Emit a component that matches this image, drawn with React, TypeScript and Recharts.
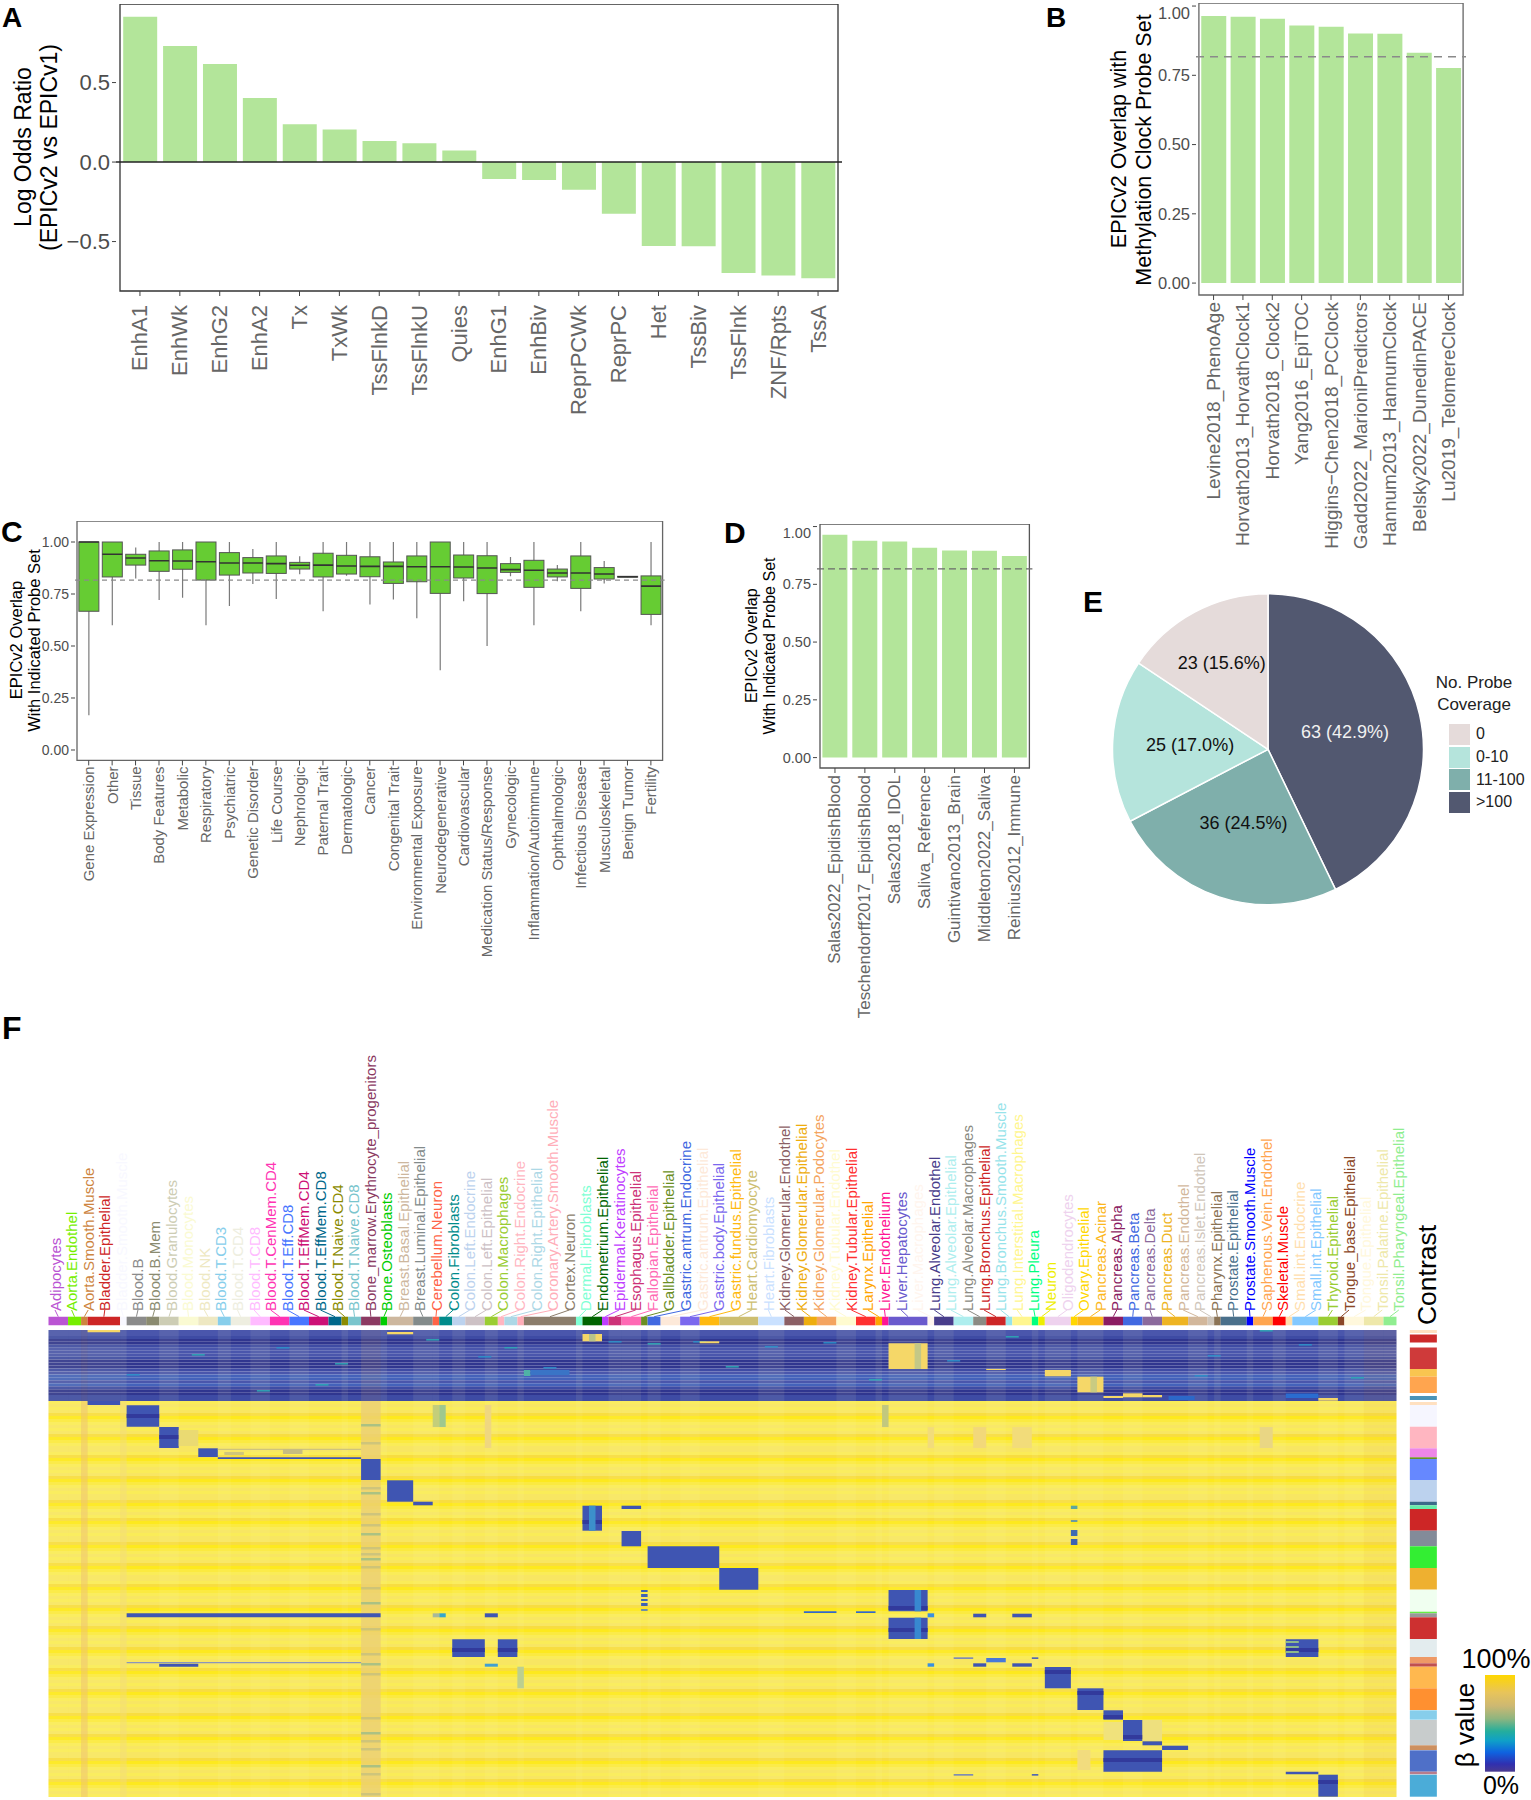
import React from 'react';
import {
  BarChart, Bar, XAxis, YAxis, ReferenceLine, ReferenceArea, PieChart, Pie, Cell, Legend, ScatterChart,
} from 'recharts';

const FONT = '"Liberation Sans", Arial, sans-serif';
const GREY = '#4D4D4D';
const BAR_GREEN = '#B3E59A';
const THRESHOLD = 0.817;

// panel A
const stateNames = ['EnhA1', 'EnhWk', 'EnhG2', 'EnhA2', 'Tx', 'TxWk', 'TssFlnkD', 'TssFlnkU', 'Quies', 'EnhG1', 'EnhBiv', 'ReprPCWk', 'ReprPC', 'Het', 'TssBiv', 'TssFlnk', 'ZNF/Rpts', 'TssA'];
const stateLogOdds = [0.914, 0.73, 0.616, 0.403, 0.237, 0.205, 0.132, 0.119, 0.073, -0.107, -0.113, -0.174, -0.325, -0.528, -0.53, -0.698, -0.713, -0.731];

// panel B
const clockNames = ['Levine2018_PhenoAge', 'Horvath2013_HorvathClock1', 'Horvath2018_Clock2', 'Yang2016_EpiTOC', 'Higgins\u2212Chen2018_PCClock', 'Gadd2022_MarioniPredictors', 'Hannum2013_HannumClock', 'Belsky2022_DunedinPACE', 'Lu2019_TelomereClock'];
const clockOverlap = [0.964, 0.9615, 0.954, 0.93, 0.925, 0.901, 0.9, 0.831, 0.776];

// panel C
const traitNames = ['Gene Expression', 'Other', 'Tissue', 'Body Features', 'Metabolic', 'Respiratory', 'Psychiatric', 'Genetic Disorder', 'Life Course', 'Nephrologic', 'Paternal Trait', 'Dermatologic', 'Cancer', 'Congenital Trait', 'Environmental Exposure', 'Neurodegenerative', 'Cardiovascular', 'Medication Status/Response', 'Gynecologic', 'Inflammation/Autoimmune', 'Ophthalmologic', 'Infectious Disease', 'Musculoskeletal', 'Benign Tumor', 'Fertility'];
const traitLow = [0.167, 0.6, 0.824, 0.721, 0.732, 0.6, 0.692, 0.798, 0.726, 0.845, 0.667, 0.838, 0.699, 0.724, 0.633, 0.383, 0.715, 0.5, 0.835, 0.6, 0.811, 0.667, 0.801, 0.831, 0.6];
const traitQ1 = [0.667, 0.832, 0.889, 0.859, 0.869, 0.817, 0.841, 0.851, 0.849, 0.87, 0.832, 0.846, 0.833, 0.801, 0.809, 0.753, 0.827, 0.752, 0.854, 0.782, 0.832, 0.777, 0.822, 0.831, 0.652];
const traitMedian = [1, 0.941, 0.923, 0.91, 0.909, 0.905, 0.899, 0.899, 0.896, 0.888, 0.889, 0.885, 0.883, 0.883, 0.881, 0.881, 0.88, 0.875, 0.867, 0.864, 0.851, 0.851, 0.846, 0.833, 0.788];
const traitQ3 = [1, 1, 0.941, 0.957, 0.962, 1, 0.949, 0.925, 0.933, 0.902, 0.946, 0.936, 0.929, 0.904, 0.933, 1, 0.9375, 0.934, 0.896, 0.912, 0.87, 0.933, 0.877, 0.835, 0.837];
const traitHigh = [1, 1, 0.974, 1, 1, 1, 1, 0.966, 1, 0.931, 1, 1, 1, 1, 1, 1, 1, 1, 0.928, 1, 0.889, 1, 0.909, 0.835, 1];

// panel D
const cellSetNames = ['Salas2022_EpidishBlood', 'Teschendorff2017_EpidishBlood', 'Salas2018_IDOL', 'Saliva_Reference', 'Guintivano2013_Brain', 'Middleton2022_Saliva', 'Reinius2012_Immune'];
const cellSetOverlap = [0.965, 0.939, 0.935, 0.908, 0.896, 0.895, 0.873];

// panel E
const coverageLabels = ['>100', '11-100', '0-10', '0'];
const coverageCounts = [63, 36, 25, 23];
const coveragePercents = ['42.9', '24.5', '17.0', '15.6'];
const coverageColors = ['#525870', '#7FAFAB', '#B5E4DC', '#E5DBDA'];

// panel F, column groups
const cellTypes = ['Adipocytes', 'Aorta.Endothel', 'Aorta.Smooth.Muscle', 'Bladder.Epithelial', 'Bladder.Smooth.Muscle', 'Blood.B', 'Blood.B.Mem', 'Blood.Granulocytes', 'Blood.Monocytes', 'Blood.NK', 'Blood.T.CD3', 'Blood.T.CD4', 'Blood.T.CD8', 'Blood.T.CenMem.CD4', 'Blood.T.Eff.CD8', 'Blood.T.EffMem.CD4', 'Blood.T.EffMem.CD8', 'Blood.T.Naive.CD4', 'Blood.T.Naive.CD8', 'Bone_marrow.Erythrocyte_progenitors', 'Bone.Osteoblasts', 'Breast.Basal.Epithelial', 'Breast.Luminal.Epithelial', 'Cerebellum.Neuron', 'Colon.Fibroblasts', 'Colon.Left.Endocrine', 'Colon.Left.Epithelial', 'Colon.Macrophages', 'Colon.Right.Endocrine', 'Colon.Right.Epithelial', 'Coronary.Artery.Smooth.Muscle', 'Cortex.Neuron', 'Dermal.Fibroblasts', 'Endometrium.Epithelial', 'Epidermal.Keratinocytes', 'Esophagus.Epithelial', 'Fallopian.Epithelial', 'Gallbladder.Epithelial', 'Gastric.antrum.Endocrine', 'Gastric.antrum.Epithelial', 'Gastric.body.Epithelial', 'Gastric.fundus.Epithelial', 'Heart.Cardiomyocyte', 'Heart.Fibroblasts', 'Kidney.Glomerular.Endothel', 'Kidney.Glomerular.Epithelial', 'Kidney.Glomerular.Podocytes', 'Kidney.Tubular.Endothel', 'Kidney.Tubular.Epithelial', 'Larynx.Epithelial', 'Liver.Endothelium', 'Liver.Hepatocytes', 'Liver.Macrophages', 'Lung.Alveolar.Endothel', 'Lung.Alveolar.Epithelial', 'Lung.Alveolar.Macrophages', 'Lung.Bronchus.Epithelial', 'Lung.Bronchus.Smooth.Muscle', 'Lung.Interstitial.Macrophages', 'Lung.Pleura', 'Neuron', 'Oligodendrocytes', 'Ovary.Epithelial', 'Pancreas.Acinar', 'Pancreas.Alpha', 'Pancreas.Beta', 'Pancreas.Delta', 'Pancreas.Duct', 'Pancreas.Endothel', 'Pancreas.Islet.Endothel', 'Pharynx.Epithelial', 'Prostate.Epithelial', 'Prostate.Smooth.Muscle', 'Saphenous.Vein.Endothel', 'Skeletal.Muscle', 'Small.int.Endocrine', 'Small.int.Epithelial', 'Thyroid.Epithelial', 'Tongue_base.Epithelial', 'Tongue.Epithelial', 'Tonsil.Palatine.Epithelial', 'Tonsil.Pharyngeal.Epithelial'];
const cellTypeColumns = [3, 2, 1, 5, 1, 3, 2, 3, 3, 3, 2, 3, 3, 3, 3, 3, 2, 1, 2, 3, 1, 4, 3, 1, 2, 2, 3, 2, 1, 2, 1, 8, 1, 3, 1, 2, 3, 1, 2, 3, 3, 3, 6, 4, 3, 2, 3, 3, 3, 1, 1, 6, 1, 3, 3, 2, 3, 1, 3, 1, 1, 4, 1, 4, 3, 3, 3, 4, 3, 1, 1, 4, 1, 3, 2, 1, 4, 3, 1, 3, 3, 2];
const cellTypeColors = ['#BA55D3', '#76EE00', '#CD853F', '#CD2626', '#F8F8FF', '#8B8B8B', '#8B8B70', '#CDCDB4', '#FAFAD2', '#EEE8C2', '#87CEEB', '#EEEEE0', '#FFBBFF', '#FF34B3', '#4876FF', '#CD1076', '#00688B', '#8B8B00', '#7AC5CD', '#8B3A62', '#00CD00', '#CDB79E', '#838B8B', '#FF6347', '#008B8B', '#BCD2EE', '#CDC1C5', '#9ACD32', '#FFB6C1', '#ADD8E6', '#FFAEB9', '#8B7D6B', '#7FFFD4', '#006400', '#BF3EFF', '#CD3278', '#FF69B4', '#6B8E23', '#4169E1', '#FDE9D9', '#7B68EE', '#FFB90F', '#CDBE70', '#CAE1FF', '#8B5F65', '#EEAD0E', '#F4A460', '#FFFBD0', '#FF3030', '#FFA500', '#FF1493', '#6A5ACD', '#FFF5EE', '#483D8B', '#AEEEEE', '#8B8B83', '#CD2626', '#97E3EA', '#FFF68F', '#00FF7F', '#EEEE00', '#EED2EE', '#FFD700', '#FCB71D', '#8B1C62', '#4169E1', '#8B6A9C', '#EEB422', '#D2B79B', '#CFC6BB', '#8B7355', '#4A708B', '#0000FF', '#FFA54F', '#FF0000', '#FFDEAD', '#82C8FF', '#9ACD32', '#8B4726', '#FFF8DC', '#EEE8AA', '#90EE90'];
// per group tone of the background, n none, w paler, o warmer
const groupShades = 'wwowwnnwnnwnwnwnnwnownwwnwnwnnwnwnnwwnwnwnnwnnnwnwnwnwnnwnnwnwnwnwnnwnwnwnwnnwnw';

// row tones, one letter per 3 px row
const upperRowTones = 'aadbbdaaadbbbdaccacdbbdd';
const lowerRowTones = 'lplpOYylplpOYylpplOYylplpOYylplppOYylplOYylplppOYylplpOYylpplOYylplpOYylplpOYylplpOYylpplOYylplpOYylplppOYylplpOYylplppOYylplpOYylpl';
const toneColors = { a: '#4A56AC', b: '#30368F', c: '#4462BA', d: '#3E4BA4', l: '#FAEC58', p: '#F8E662', O: '#F8DD40', Y: '#FDE91E', y: '#FBEA40' };
const bandCenters = [86, 107, 128, 150, 172, 192, 215, 237, 258, 278, 300, 320, 342, 363, 387, 407, 430, 452];

// [colFrom, colTo, rowFrom, rowTo]
const blueBlocks = [
  [6, 11, 71, 75], [12, 17, 75.3, 96.7], [17, 20, 97, 118], [23, 26, 118.3, 127], [26, 48, 127.3, 129], [48, 51, 129, 150],
  [52, 56, 150.3, 171.7], [56, 59, 171.7, 175.3], [82, 85, 175.7, 200.7], [88, 91, 175.7, 179], [88, 91, 201, 216.3],
  [92, 103, 216.3, 238], [103, 109, 238, 259.7], [12, 51, 283.3, 287.3], [67, 69, 283.3, 287.3], [62, 67, 309.3, 327], [69, 72, 309.3, 327],
  [17, 23, 333.7, 336.7], [129, 135, 260, 281.3], [129, 135, 287.7, 309], [142, 144, 283.7, 287.3], [148, 151, 283.7, 287.3],
  [153, 157, 337, 358.3], [158, 162, 358.3, 380], [162, 165, 380.3, 389.7], [165, 168, 390, 411], [168, 171, 411.3, 415.3],
  [171, 175, 415.7, 420], [162, 171, 420.3, 441.7], [190, 195, 309.3, 327], [190, 195, 441.7, 444.3], [195, 198, 444.7, 466.7],
  [142, 144, 333.3, 336.7], [148, 151, 333.3, 336.7],
];
const yellowBlocks = [
  [6, 11, 0, 2.3], [52, 56, 2, 4.3], [82, 85, 4, 11.3], [100, 103, 11.3, 13.3], [129, 135, 13.3, 39], [144, 147, 39, 40],
  [153, 157, 40, 46.3], [158, 162, 46.7, 62.3], [165, 168, 63.3, 67.3], [162, 165, 66, 68], [168, 171, 65, 67.3], [195, 198, 68, 70.7],
];
// [colFrom, colTo, rowFrom, rowTo, color]
const accentCells = [
  [83, 84, 4, 11.3, '#B9C48A'], [133, 134, 13.3, 39, '#C4C886'], [160, 161, 46.7, 62.3, '#C9CB82'],
  [83, 84, 175.7, 200.7, '#3C8FCB'], [133, 134, 260, 281.3, '#3888D0'], [133, 134, 287.7, 309, '#3888D0'],
  [73, 74, 40, 46, '#4FB2A6'], [74, 80, 40, 45, '#3A74C6'], [190, 195, 63.5, 68, '#2A6CD0'], [172, 176, 66, 70, '#2C68C8'],
  [91, 92, 260, 262, '#3F62B4'], [91, 92, 264, 267, '#3F62B4'], [91, 92, 269, 271, '#3F62B4'], [91, 92, 273, 276, '#3F62B4'], [91, 92, 279, 281, '#6F8FA8'],
  [60, 61, 283.3, 287.3, '#35A6CC'], [59, 60, 283.3, 287.3, '#A8B89A'], [135, 136, 283.3, 287.3, '#3A90E0'], [135, 136, 333.3, 336.7, '#3A90E0'],
  [67, 69, 333.7, 336.7, '#42A0D0'], [12, 48, 332, 333.3, '#8A96BA'], [116, 121, 281.3, 283, '#3568C8'], [124, 127, 281.3, 283, '#3568C8'],
  [139, 142, 327.3, 329, '#7F8CB4'], [144, 147, 328, 332.3, '#4878D8'], [151, 152, 327.3, 329, '#5568B0'], [139, 142, 444, 445.7, '#7F8CB4'], [151, 152, 444, 445.7, '#5568B0'],
  [190, 192, 311, 313, '#8DB98A'], [190, 192, 316, 318, '#8DB98A'], [190, 192, 321, 323, '#8DB98A'],
  [26, 48, 118.8, 120, '#CFC47C'], [36, 39, 119, 124, '#C8BD80'], [27, 30, 122, 125, '#D0C67A'], [20, 23, 100, 116, '#EADA72'],
  [59, 60, 75, 97, '#C4CE7A'], [60, 61, 75, 97, '#9FC88E'], [67, 68, 75, 118, '#EFD780'], [72, 73, 336.7, 358.3, '#BCCF90'], [128, 129, 75, 97, '#C2C87E'],
  [157, 158, 175.7, 179, '#5DA6A0'], [157, 158, 190, 192, '#6C9AA0'], [157, 158, 200, 206, '#3E6BB2'], [157, 158, 209, 215, '#3C62B2'],
  [135, 136, 97, 118, '#F2DC7A'], [142, 144, 97, 118, '#F2D87A'], [148, 151, 97, 118, '#F2DC7A'], [186, 188, 97, 118, '#E9D684'],
  [162, 165, 392, 410, '#F0E27C'], [168, 171, 390, 411, '#EEE07E'], [158, 160, 420, 440, '#F2DC7E'],
];
const paleColumns = [[5, 6, '#EFC878', 0.5], [11, 12, '#EFD67A', 0.4], [48, 51, '#EBCF78', 0.75]];
const boneMarrowStreaks = [94, 112, 157, 162, 183, 194, 203, 217, 223, 228, 236, 257, 272, 298, 323, 333, 343, 387, 402, 410, 418, 435, 443, 463];
const tealSpecks = [[99, 11], [92, 13], [86, 11], [104, 36], [110, 16], [22, 24], [35, 17], [41, 54], [76, 37], [58, 9], [66, 26], [70, 17], [119, 12], [126, 49], [138, 30], [147, 6], [178, 25], [186, 0], [192, 14], [200, 47], [176, 45], [32, 60], [12, 44], [44, 33]];

// contrast sidebar: [rowFrom, rowTo, color]
const contrastBands = [
  [0, 3, '#FFE0C0'], [4.5, 12.5, '#CD2A2A'], [17.5, 39, '#CF3A3A'], [39, 46.7, '#F9C550'], [46.7, 63, '#FFA54F'], [66, 70, '#4A94B8'],
  [72, 75, '#FFE0C0'], [75, 96.7, '#F6F6FF'], [96.7, 118.3, '#FFB6C1'], [118.3, 127.3, '#EE86E6'], [127.3, 129, '#6B8E23'], [129, 150, '#6688FF'],
  [150, 171.7, '#BCD2EE'], [171.7, 175.3, '#3A6B8A'], [175.3, 179, '#66EEAA'], [179, 200.7, '#CD2626'], [200.7, 216.3, '#838B99'], [216.3, 238, '#33EE33'],
  [238, 259.7, '#EEB030'], [259.7, 281.7, '#F0FFF0'], [281.7, 283.3, '#66EE44'], [283.3, 287.3, '#999999'], [287.3, 309, '#CD3030'], [309, 327, '#E3ECEE'],
  [327, 333.3, '#EE9966'], [333.3, 336.7, '#C05050'], [336.7, 358.3, '#FFB84F'], [358.3, 380, '#FF9030'], [380.3, 389.7, '#87CEEB'], [390, 415.3, '#C8CCCC'],
  [415.3, 420, '#CD9060'], [420.3, 441.7, '#4F70C8'], [441.7, 444.3, '#B87C8C'], [444.7, 466.7, '#4BACD8'],
];
const betaStops = [[0, '#FFD700'], [18, '#E8C45A'], [32, '#CDB872'], [45, '#8FB57F'], [58, '#25AE9C'], [68, '#0FA0C8'], [80, '#0F63E0'], [92, '#3030B0'], [100, '#4A3A90']];

const COL_PX = 6.512;
const SIDEBAR_FROM = 209.05;
const SIDEBAR_TO = 213.2;
const columnStarts = cellTypeColumns.map((_, i) => cellTypeColumns.slice(0, i).reduce((a, b) => a + b, 0));
const labelColumns = cellTypes.map((_, i) => 1 + i * 2.5476);

const RotatedTick = ({ x, y, payload, fontSize, gap, fill = GREY, anchor = 'end' }: any) => (
  <text
    x={x}
    y={y + gap}
    transform={`rotate(-90 ${x} ${y + gap})`}
    textAnchor={anchor}
    dominantBaseline="central"
    fontFamily={FONT}
    fontSize={fontSize}
    fill={fill}
  >
    {payload.value}
  </text>
);

interface PanelProps {
  left: number;
  top: number;
  width: number;
  height: number;
  domain: [number, number];
  ticks: number[];
  axisWidth?: number;
  axisHeight: number;
  xFont: number;
  yFont: number;
  gap: number;
  border: string;
  decimals: number;
  pad: number;
  chartData: any[];
  children?: React.ReactNode;
}

const Panel = ({ left, top, width, height, domain, ticks, axisWidth = 60, axisHeight, xFont, yFont, gap, border, decimals, pad, children, chartData }: PanelProps) => (
  <div style={{ position: 'absolute', left: left - axisWidth, top, width: width + axisWidth + 2, height: height + axisHeight }}>
    <BarChart
      width={width + axisWidth + 2}
      height={height + axisHeight}
      data={chartData}
      margin={{ top: 0, right: 2, bottom: 0, left: 0 }}
      barCategoryGap="8%"
    >
      <XAxis
        dataKey="name"
        interval={0}
        height={axisHeight}
        padding={{ left: pad, right: pad }}
        tickLine={{ stroke: '#444' }}
        tickSize={5}
        tickMargin={0}
        axisLine={false}
        tick={(p: any) => <RotatedTick {...p} fontSize={xFont} gap={gap} />}
      />
      <YAxis
        type="number"
        width={axisWidth}
        domain={domain}
        ticks={ticks}
        allowDataOverflow
        tickLine={{ stroke: '#444' }}
        tickSize={4}
        tickMargin={2}
        axisLine={false}
        tickFormatter={(v: number) => v.toFixed(decimals).replace('-', '\u2212')}
        tick={{ fontFamily: FONT, fontSize: yFont, fill: GREY }}
      />
      {children}
      <ReferenceArea y1={domain[0]} y2={domain[1]} fill="none" stroke={border} strokeWidth={1.3} ifOverflow="visible" />
    </BarChart>
  </div>
);

const stateTable = stateNames.map((name, i) => ({ name, value: stateLogOdds[i] }));
const clockTable = clockNames.map((name, i) => ({ name, value: clockOverlap[i] }));
const cellSetTable = cellSetNames.map((name, i) => ({ name, value: cellSetOverlap[i] }));
const traitTable = traitNames.map((name, i) => ({
  name, low: traitLow[i], q1: traitQ1[i], median: traitMedian[i], q3: traitQ3[i], high: traitHigh[i],
}));
const coverageTable = coverageLabels.map((name, i) => ({ name, value: coverageCounts[i], percent: coveragePercents[i] }));

const BoxShape = ({ x, y, width, height, payload }: any) => {
  const yOf = (v: number) => y + ((payload.high - v) / (payload.high - payload.low)) * height;
  const cx = x + width / 2;
  return (
    <g>
      <line x1={cx} x2={cx} y1={yOf(payload.high)} y2={yOf(payload.low)} stroke="#7A7A7A" strokeWidth={1.2} />
      <rect x={x} y={yOf(payload.q3)} width={width} height={yOf(payload.q1) - yOf(payload.q3)} fill="#66CC33" stroke="#555" strokeWidth={1} />
      <line x1={x} x2={x + width} y1={yOf(payload.median)} y2={yOf(payload.median)} stroke="#333" strokeWidth={1.6} />
    </g>
  );
};

const pieLabelRadius = [79, 78, 78, 98];
const PieLabel = ({ cx, cy, midAngle, index }: any) => {
  const rad = (midAngle * Math.PI) / 180;
  const r = pieLabelRadius[index];
  return (
    <text
      x={cx + r * Math.cos(rad)}
      y={cy - r * Math.sin(rad)}
      textAnchor="middle"
      dominantBaseline="central"
      fontFamily={FONT}
      fontSize={18}
      fill={index === 0 ? '#F1F1F1' : '#111'}
    >
      {`${coverageCounts[index]} (${coveragePercents[index]}%)`}
    </text>
  );
};

const CoverageLegend = () => (
  <div style={{ fontFamily: FONT, fontSize: 16, color: '#222', width: 82 }}>
    <div style={{ textAlign: 'center', lineHeight: '22px', fontSize: 17, width: 100, marginLeft: -25, paddingTop: 1 }}>No. Probe<br />Coverage</div>
    <div style={{ height: 7 }} />
    {[...coverageLabels].reverse().map((label, i) => (
      <div key={label} style={{ display: 'flex', alignItems: 'center', height: 22.7 }}>
        <div style={{ width: 21, height: 21, background: [...coverageColors].reverse()[i], marginRight: 6 }} />
        <span>{label}</span>
      </div>
    ))}
  </div>
);

const Heatmap = () => {
  const yellowTone = '#F5D768';
  return (
    <div style={{ position: 'absolute', left: 0, top: 1010 }}>
      <ScatterChart width={1531} height={790} margin={{ top: 0, right: 1531 - 48.5 - 214 * COL_PX, bottom: 3, left: 48.5 }}>
        <XAxis
          type="number"
          orientation="top"
          dataKey="col"
          height={300}
          domain={[0, 214]}
          ticks={labelColumns}
          interval={0}
          allowDataOverflow
          tickLine={false}
          axisLine={false}
          tickSize={0}
          tickMargin={0}
          tick={(p: any) => (
            <RotatedTick {...p} payload={{ value: cellTypes[p.index] }} fontSize={15} gap={1} anchor="start" fill={cellTypeColors[p.index]} />
          )}
        />
        <YAxis type="number" dataKey="row" hide reversed domain={[-20, 467]} allowDataOverflow />
        {(upperRowTones + lowerRowTones).split('').map((tone, i) => {
          const from = i < 24 ? i * (71 / 24) : 71 + (i - 24) * 3;
          const to = i < 24 ? (i + 1) * (71 / 24) : from + 3;
          return <ReferenceArea key={`row${i}`} x1={0} x2={207} y1={from} y2={to} fill={toneColors[tone]} fillOpacity={1} />;
        })}
        {cellTypes.map((name, i) => (groupShades[i] === 'n' ? null : (
          <ReferenceArea
            key={`shade-${name}`}
            x1={columnStarts[i]}
            x2={columnStarts[i] + cellTypeColumns[i]}
            y1={0}
            y2={467}
            fill={groupShades[i] === 'w' ? '#FFF9C0' : '#F2C060'}
            fillOpacity={groupShades[i] === 'w' ? 0.08 : 0.12}
          />
        )))}
        {paleColumns.map(([a, b, c, o], i) => (
          <ReferenceArea key={`pale${i}`} x1={a as number} x2={b as number} y1={71} y2={467} fill={c as string} fillOpacity={o as number} />
        ))}
        {boneMarrowStreaks.map((r, i) => (
          <ReferenceArea key={`streak${i}`} x1={48} x2={51} y1={r} y2={r + 2.5} fill={i % 3 === 0 ? '#8FB98A' : '#C0BE80'} fillOpacity={0.7} />
        ))}
        {tealSpecks.map(([c, r], i) => (
          <ReferenceArea key={`speck${i}`} x1={c} x2={c + 2} y1={r} y2={r + 1.6} fill={i % 2 === 0 ? '#2C8FC8' : '#2FA6B4'} fillOpacity={0.9} />
        ))}
        {yellowBlocks.map(([a, b, r1, r2], i) => (
          <ReferenceArea key={`yb${i}`} x1={a} x2={b} y1={r1} y2={r2} fill={yellowTone} fillOpacity={1} />
        ))}
        {blueBlocks.map(([a, b, r1, r2], i) => (
          <ReferenceArea key={`bb${i}`} x1={a} x2={b} y1={r1} y2={r2} fill="#3F55B2" fillOpacity={1} />
        ))}
        {blueBlocks.flatMap(([a, b, r1, r2], i) =>
          bandCenters.filter((c) => c >= r1 + 2 && c <= r2 - 2).map((c) => (
            <ReferenceArea key={`bd${i}-${c}`} x1={a} x2={b} y1={c - 2} y2={c + 2} fill="#323A9C" fillOpacity={1} />
          )),
        )}
        {accentCells.map(([a, b, r1, r2, color], i) => (
          <ReferenceArea key={`ac${i}`} x1={a as number} x2={b as number} y1={r1 as number} y2={r2 as number} fill={color as string} fillOpacity={1} />
        ))}
        {cellTypes.map((name, i) => (
          <ReferenceArea key={name} x1={columnStarts[i]} x2={columnStarts[i] + cellTypeColumns[i]} y1={-13.3} y2={-4.7} fill={cellTypeColors[i]} fillOpacity={1} />
        ))}
        {cellTypes.map((name, i) => (
          <ReferenceLine
            key={`link-${name}`}
            segment={[
              { x: labelColumns[i], y: -20 },
              { x: columnStarts[i] + cellTypeColumns[i] / 2, y: -13.3 },
            ]}
            stroke={cellTypeColors[i]}
            strokeWidth={1}
          />
        ))}
        {contrastBands.map(([r1, r2, color], i) => (
          <ReferenceArea key={`ct${i}`} x1={SIDEBAR_FROM} x2={SIDEBAR_TO} y1={r1 as number} y2={r2 as number} fill={color as string} fillOpacity={1} />
        ))}
      </ScatterChart>
    </div>
  );
};

const captions = [
  { t: 'A', x: 2, y: 27, s: 28 },
  { t: 'B', x: 1046, y: 27, s: 28 },
  { t: 'C', x: 1, y: 542, s: 30 },
  { t: 'D', x: 724, y: 543, s: 30 },
  { t: 'E', x: 1083, y: 612, s: 30 },
  { t: 'F', x: 2, y: 1039, s: 32 },
];
const sideTitles = [
  { t: 'Log Odds Ratio', x: 23, y: 147, s: 23 },
  { t: '(EPICv2 vs EPICv1)', x: 48.5, y: 147.5, s: 23 },
  { t: 'EPICv2 Overlap with', x: 1119, y: 149, s: 21.5 },
  { t: 'Methylation Clock Probe Set', x: 1143.5, y: 150, s: 21.5 },
  { t: 'EPICv2 Overlap', x: 15.7, y: 640, s: 16.5 },
  { t: 'With Indicated Probe Set', x: 33.6, y: 640.5, s: 16.5 },
  { t: 'EPICv2 Overlap', x: 751.6, y: 645.7, s: 16 },
  { t: 'With Indicated Probe Set', x: 769, y: 646, s: 16 },
  { t: 'Contrast', x: 1427, y: 1275, s: 26.5 },
  { t: '\u03B2 value', x: 1465, y: 1725, s: 26 },
];

export default function App() {
  return (
    <div style={{ position: 'absolute', left: 0, top: 0, width: 1531, height: 1800, background: '#fff', overflow: 'hidden' }}>
      <Panel left={116} top={4} width={726} height={287} axisHeight={130} chartData={stateTable} domain={[-0.811, 0.994]} ticks={[-0.5, 0, 0.5]} xFont={22} yFont={22} gap={9} border="#333" decimals={1} pad={4}>
        <Bar dataKey="value" fill={BAR_GREEN} isAnimationActive={false} />
        <ReferenceLine y={0} stroke="#222" strokeWidth={1.5} />
      </Panel>
      <Panel left={1196} top={3} width={270} height={292} axisHeight={270} axisWidth={50} chartData={clockTable} domain={[-0.043, 1.011]} ticks={[0, 0.25, 0.5, 0.75, 1]} xFont={19} yFont={16.5} gap={2} border="#666" decimals={2} pad={2.9}>
        <Bar dataKey="value" fill={BAR_GREEN} isAnimationActive={false} />
        <ReferenceLine y={THRESHOLD} stroke="#8A8A8A" strokeWidth={1.3} strokeDasharray="8 6" />
      </Panel>
      <Panel left={75} top={521.3} width={589.6} height={239.4} axisHeight={200} axisWidth={45} chartData={traitTable} domain={[-0.05, 1.101]} ticks={[0, 0.25, 0.5, 0.75, 1]} xFont={15} yFont={14} gap={1} border="#666" decimals={2} pad={2}>
        <Bar dataKey={(d: any) => [d.low, d.high]} shape={BoxShape} isAnimationActive={false} />
        <ReferenceLine y={THRESHOLD} stroke="#8A8A8A" strokeWidth={1.3} strokeDasharray="5 4" />
      </Panel>
      <Panel left={817} top={523.7} width={215.4} height={244} axisHeight={270} axisWidth={42} chartData={cellSetTable} domain={[-0.045, 1.011]} ticks={[0, 0.25, 0.5, 0.75, 1]} xFont={17} yFont={14.5} gap={2} border="#555" decimals={2} pad={3}>
        <Bar dataKey="value" fill={BAR_GREEN} isAnimationActive={false} />
        <ReferenceLine y={THRESHOLD} stroke="#6A6A6A" strokeWidth={1.2} strokeDasharray="7 4" />
      </Panel>

      <div style={{ position: 'absolute', left: 1098, top: 579 }}>
        <PieChart width={433} height={340} margin={{ top: 0, right: 0, bottom: 0, left: 0 }}>
          <Pie
            data={coverageTable}
            dataKey="value"
            nameKey="name"
            cx={170}
            cy={170.3}
            outerRadius={155.5}
            startAngle={90}
            endAngle={-270}
            stroke="#fff"
            strokeWidth={1.5}
            labelLine={false}
            label={PieLabel}
            isAnimationActive={false}
          >
            {coverageTable.map((row, i) => <Cell key={row.name} fill={coverageColors[i]} />)}
          </Pie>
          <Legend content={() => <CoverageLegend />} wrapperStyle={{ left: 351, top: 92, width: 82, bottom: 'auto' }} />
        </PieChart>
      </div>

      <Heatmap />

      <svg width={1531} height={1800} style={{ position: 'absolute', left: 0, top: 0, pointerEvents: 'none' }}>
        <defs>
          <linearGradient id="betaScale" x1="0" y1="0" x2="0" y2="1">
            {betaStops.map(([at, color]) => <stop key={at as number} offset={`${at}%`} stopColor={color as string} />)}
          </linearGradient>
        </defs>
        {captions.map((c) => (
          <text key={c.t} x={c.x} y={c.y} fontFamily={FONT} fontSize={c.s} fontWeight="bold" fill="#000">{c.t}</text>
        ))}
        {sideTitles.map((c, i) => (
          <text key={i} x={c.x} y={c.y} transform={`rotate(-90 ${c.x} ${c.y})`} textAnchor="middle" dominantBaseline="central" fontFamily={FONT} fontSize={c.s} fill="#000">{c.t}</text>
        ))}
        <rect x={1485} y={1675} width={30} height={96.7} fill="url(#betaScale)" />
        <text x={1496} y={1659} textAnchor="middle" dominantBaseline="central" fontFamily={FONT} fontSize={27} fill="#000">100%</text>
        <text x={1501} y={1785} textAnchor="middle" dominantBaseline="central" fontFamily={FONT} fontSize={25} fill="#000">0%</text>
      </svg>
    </div>
  );
}
